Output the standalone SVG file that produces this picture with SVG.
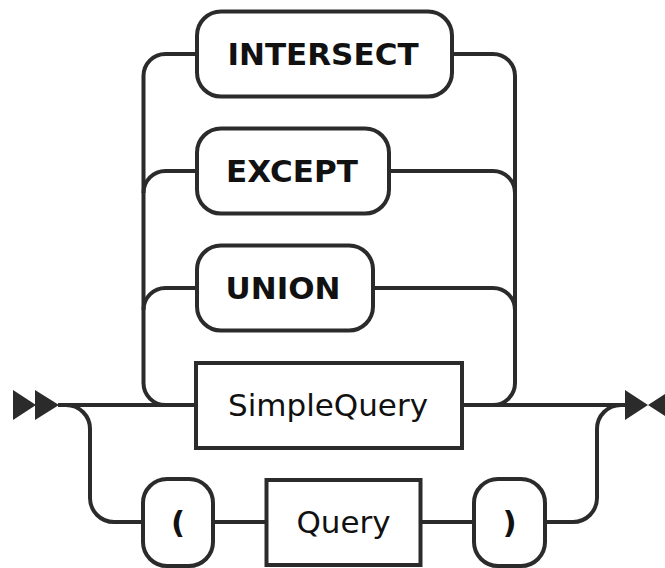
<svg xmlns="http://www.w3.org/2000/svg" width="665" height="568" viewBox="0 0 665 568">
<style>
.ln{fill:none;stroke:#2b2b2b;stroke-width:4}
.box{fill:#fff;stroke:#2b2b2b;stroke-width:4}
.t{font-family:"DejaVu Sans",sans-serif;font-size:31px;fill:#111;text-anchor:middle}
.b{font-weight:bold}
.ar{fill:#2b2b2b}
</style>
<rect width="665" height="568" fill="#fff"/>
<g id="connectors">
<path class="ln" d="M58 405 H196 M462 405 H625"/>
<path class="ln" d="M197 54 H165.5 A22 22 0 0 0 143.5 76 V383 A22 22 0 0 0 165.5 405"/>
<path class="ln" d="M143.5 193 A22 22 0 0 1 165.5 171 H197"/>
<path class="ln" d="M143.5 310 A22 22 0 0 1 165.5 288 H197"/>
<path class="ln" d="M452 54 H493 A22 22 0 0 1 515 76 V383 A22 22 0 0 1 493 405"/>
<path class="ln" d="M389 171 H493 A22 22 0 0 1 515 193"/>
<path class="ln" d="M373 288 H493 A22 22 0 0 1 515 310"/>
<path class="ln" d="M66 405 A24 24 0 0 1 90 429 V498 A24 24 0 0 0 114 522 H143"/>
<path class="ln" d="M213 522 H266.5 M420.5 522 H474"/>
<path class="ln" d="M545 522 H573 A24 24 0 0 0 597 498 V429 A24 24 0 0 1 621 405"/>
<polygon class="ar" points="13,390 13,420 36,405"/>
<polygon class="ar" points="35,390 35,420 59,405"/>
<polygon class="ar" points="625,390 625,420 648,405"/>
<polygon class="ar" points="671,390 671,420 648,405"/>
</g>
<g id="intersect">
<rect class="box" x="197" y="11.5" width="255" height="85" rx="24"/>
<text class="t b" x="323" y="65">INTERSECT</text>
</g>
<g id="except">
<rect class="box" x="197" y="128.5" width="192" height="85" rx="24"/>
<text class="t b" x="292" y="182">EXCEPT</text>
</g>
<g id="union">
<rect class="box" x="197" y="245.5" width="176" height="85" rx="24"/>
<text class="t b" x="283" y="299">UNION</text>
</g>
<g id="simplequery">
<rect class="box" x="196" y="363" width="266" height="85"/>
<text class="t" x="328" y="416">SimpleQuery</text>
</g>
<g id="lparen">
<rect class="box" x="143" y="479" width="70" height="87" rx="24"/>
<text class="t b" x="178" y="533">(</text>
</g>
<g id="query">
<rect class="box" x="266.5" y="480" width="154" height="85"/>
<text class="t" x="343.5" y="533">Query</text>
</g>
<g id="rparen">
<rect class="box" x="474" y="479" width="71" height="87" rx="24"/>
<text class="t b" x="509.5" y="533">)</text>
</g>
</svg>
